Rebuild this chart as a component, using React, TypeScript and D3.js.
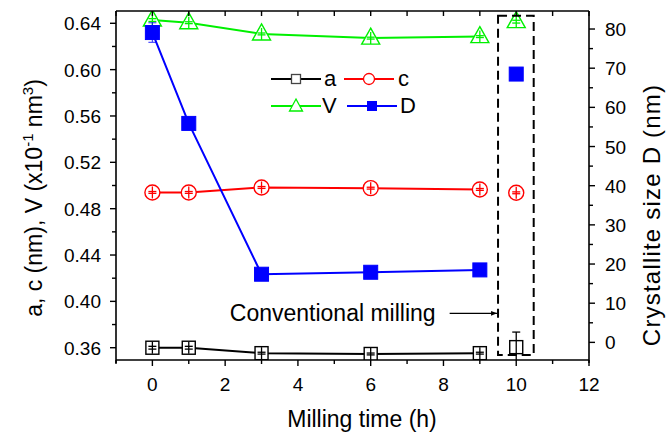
import React from "react";
import * as d3 from "d3";

const time = [0, 1, 3, 6, 9, 10];
const aVals = [0.36, 0.36, 0.3553, 0.3546, 0.3553, 0.3605];
const cVals = [0.494, 0.494, 0.4983, 0.4977, 0.4966, 0.4937];
const vVals = [0.6428, 0.6405, 0.6308, 0.6272, 0.6285, 0.6414];
const dVals = [79.1, 55.9, 17.4, 17.9, 18.5, 68.5];
const aErr = [0.0012, 0.0012, 0.0008, 0.0008, 0.0008, 0.013];
const cErr = [0.0008, 0.0008, 0.0008, 0.0008, 0.0008, 0.0008];
const vErr = [0.0012, 0.0008, 0.0008, 0.0008, 0.0008, 0.0012];
const dErr = [2.5, 0.6, 0.3, 0.3, 0.3, 0.3];
const xTicks = [0, 2, 4, 6, 8, 10, 12];
const yLeftTicks = [0.36, 0.4, 0.44, 0.48, 0.52, 0.56, 0.6, 0.64];
const yRightTicks = [0, 10, 20, 30, 40, 50, 60, 70, 80];
const connected = 5; // first five points are joined; the last is conventional milling
const annotation = "Conventional milling";
const boxX = [9.5, 10.48];
const boxY = [0.3537, 0.6466];
const arrowX = [8.17, 9.5];
const arrowY = 0.3897;

const W = 666, H = 433;
const L = 116, R = 589, T = 11, B = 360;
const FONT = "'Liberation Sans', Arial, Helvetica, sans-serif";

const x = d3.scaleLinear().domain([-1, 12]).range([L, R]);
const yL = d3.scaleLinear().domain([0.3494, 0.6506]).range([B, T]);
const yR = d3.scaleLinear().domain([-4.5, 84.6]).range([B, T]);

const BLACK = "#000000", RED = "#ff0000", GREEN = "#00f000", BLUE = "#0000ff";

function ErrBar({ cx, cy, y1, y2, half, color }: any) {
  const top = Math.min(y1, cy - half);
  const bot = Math.max(y2, cy + half);
  return (
    <g stroke={color} strokeWidth={1.3}>
      <line x1={cx} x2={cx} y1={top} y2={bot} />
      <line x1={cx - 4} x2={cx + 4} y1={y1} y2={y1} />
      <line x1={cx - 4} x2={cx + 4} y1={y2} y2={y2} />
    </g>
  );
}

function Marker({ kind, cx, cy, color, s = 1 }: any) {
  if (kind === "square")
    return <rect x={cx - 6.5 * s} y={cy - 6.5 * s} width={13 * s} height={13 * s} fill="white" stroke={color} strokeWidth={1.4} />;
  if (kind === "circle")
    return <circle cx={cx} cy={cy} r={7.5 * s} fill="white" stroke={color} strokeWidth={1.4} />;
  if (kind === "triangle") {
    const p = `${cx},${cy - 10 * s} ${cx + 9 * s},${cy + 6 * s} ${cx - 9 * s},${cy + 6 * s}`;
    return <polygon points={p} fill="white" stroke={color} strokeWidth={1.4} />;
  }
  return <rect x={cx - 7 * s} y={cy - 7 * s} width={14 * s} height={14 * s} fill={color} stroke={color} strokeWidth={1} />;
}

function Series({ vals, errs, scale, color, kind }: any) {
  const pts = time.map((t, i) => [x(t), scale(vals[i])] as [number, number]);
  const line = d3.line()(pts.slice(0, connected));
  return (
    <g>
      <path d={line || ""} fill="none" stroke={color} strokeWidth={2} />
      {pts.map(([px, py], i) => (
        <g key={i}>
          <Marker kind={kind} cx={px} cy={py} color={color} />
          {kind !== "filled" ? (
            <ErrBar cx={px} cy={py} y1={scale(vals[i] + errs[i])} y2={scale(vals[i] - errs[i])} half={6} color={color} />
          ) : (
            <g stroke={color} strokeWidth={1.2} opacity={0.7}>
              <line x1={px} x2={px} y1={scale(vals[i] + errs[i])} y2={scale(vals[i] - errs[i])} />
              <line x1={px - 4} x2={px + 4} y1={scale(vals[i] + errs[i])} y2={scale(vals[i] + errs[i])} />
              <line x1={px - 4} x2={px + 4} y1={scale(vals[i] - errs[i])} y2={scale(vals[i] - errs[i])} />
            </g>
          )}
        </g>
      ))}
    </g>
  );
}

function LegendItem({ x0, y0, color, kind, label, len = 50, tx }: any) {
  const cx = x0 + len / 2;
  return (
    <g>
      <line x1={x0} x2={x0 + len} y1={y0} y2={y0} stroke={color} strokeWidth={2} />
      {kind === "square" && <rect x={cx - 4.5} y={y0 - 4.5} width={9} height={9} fill="white" stroke="#444" strokeWidth={1.3} />}
      {kind === "circle" && <circle cx={cx} cy={y0} r={5.5} fill="white" stroke={color} strokeWidth={1.3} />}
      {kind === "triangle" && <polygon points={`${cx},${y0 - 7} ${cx + 6.5},${y0 + 5} ${cx - 6.5},${y0 + 5}`} fill="white" stroke={color} strokeWidth={1.3} />}
      {kind === "filled" && <rect x={cx - 5} y={y0 - 5} width={10} height={10} fill={color} />}
      <text x={tx} y={y0 + 7} fontSize={22} fontFamily={FONT} fill="#000">{label}</text>
    </g>
  );
}

export default function App() {
  const xMinor = d3.range(-1, 12.01, 1);
  const yLMinor = d3.range(0.36, 0.6501, 0.02);
  const yRMinor = d3.range(0, 84.01, 5);
  return (
    <svg width={W} height={H} style={{ position: "fixed", left: 0, top: 0, background: "white" }}>
      <rect x={0} y={0} width={W} height={H} fill="white" />
      <defs>
        <clipPath id="plot">
          <rect x={L} y={T} width={R - L} height={B - T} />
        </clipPath>
        <marker id="arrow" viewBox="0 0 10 10" refX="10" refY="5" markerWidth="8" markerHeight="6" orient="auto" markerUnits="userSpaceOnUse">
          <path d="M0,1 L10,5 L0,9 Z" fill="#000" />
        </marker>
      </defs>

      <g clipPath="url(#plot)">
        <Series vals={aVals} errs={aErr} scale={yL} color={BLACK} kind="square" />
        <Series vals={cVals} errs={cErr} scale={yL} color={RED} kind="circle" />
        <Series vals={vVals} errs={vErr} scale={yL} color={GREEN} kind="triangle" />
        <Series vals={dVals} errs={dErr} scale={yR} color={BLUE} kind="filled" />
      </g>

      {/* dashed box and annotation */}
      <rect x={x(boxX[0])} y={yL(boxY[1])} width={x(boxX[1]) - x(boxX[0])} height={yL(boxY[0]) - yL(boxY[1])} fill="none" stroke="#000" strokeWidth={2} strokeDasharray="9,5" />
      <line x1={x(arrowX[0])} x2={x(arrowX[1]) - 1} y1={yL(arrowY)} y2={yL(arrowY)} stroke="#000" strokeWidth={1.3} markerEnd="url(#arrow)" />
      <text x={x(arrowX[0]) - 14} y={yL(arrowY) + 8} textAnchor="end" fontSize={23} fontFamily={FONT}>{annotation}</text>

      {/* legend */}
      <LegendItem x0={271} y0={79} color={BLACK} kind="square" label="a" tx={324} />
      <LegendItem x0={344} y0={79} color={RED} kind="circle" label="c" tx={398} />
      <LegendItem x0={271} y0={106} color={GREEN} kind="triangle" label="V" tx={322} />
      <LegendItem x0={347} y0={106} color={BLUE} kind="filled" label="D" tx={400} />

      {/* frame */}
      <g stroke="#000" strokeWidth={1.6} fill="none">
        <line x1={L} x2={R} y1={T} y2={T} />
        <line x1={L} x2={R} y1={B} y2={B} />
        <line x1={L} x2={L} y1={T} y2={B + 3} />
        <line x1={R} x2={R} y1={T} y2={B + 3} />
      </g>

      {/* ticks */}
      <g stroke="#000" strokeWidth={1.4}>
        {xMinor.map((v) => (
          <g key={v}>
            <line x1={x(v)} x2={x(v)} y1={B} y2={B + (v % 2 === 0 ? 6 : 4)} />
            <line x1={x(v)} x2={x(v)} y1={T} y2={T + 5} />
          </g>
        ))}
        {yLMinor.map((v, i) => (
          <line key={i} x1={L} x2={L - (i % 2 === 0 ? 6 : 4)} y1={yL(v)} y2={yL(v)} />
        ))}
        {yRMinor.map((v, i) => (
          <line key={i} x1={R} x2={R + (i % 2 === 0 ? 6 : 4)} y1={yR(v)} y2={yR(v)} />
        ))}
      </g>

      <g fontFamily={FONT} fontSize={19} fill="#000">
        {xTicks.map((v) => (
          <text key={v} x={x(v)} y={391} textAnchor="middle">{v}</text>
        ))}
        {yLeftTicks.map((v) => (
          <text key={v} x={101} y={yL(v) + 7} textAnchor="end">{v.toFixed(2)}</text>
        ))}
        {yRightTicks.map((v) => (
          <text key={v} x={605} y={yR(v) + 7} textAnchor="start">{v}</text>
        ))}
      </g>

      <text x={362} y={427} textAnchor="middle" fontSize={23} fontFamily={FONT}>Milling time (h)</text>
      <text transform="translate(42,198) rotate(-90)" textAnchor="middle" fontSize={23} fontFamily={FONT}>
        a, c (nm), V (x10<tspan fontSize={15} dy={-9}>-1</tspan>
        <tspan dy={9}> nm</tspan>
        <tspan fontSize={15} dy={-9}>3</tspan>
        <tspan dy={9}>)</tspan>
      </text>
      <text transform="translate(660,215) rotate(-90)" textAnchor="middle" fontSize={24} letterSpacing={1.2} fontFamily={FONT}>Crystallite size D (nm)</text>
    </svg>
  );
}
